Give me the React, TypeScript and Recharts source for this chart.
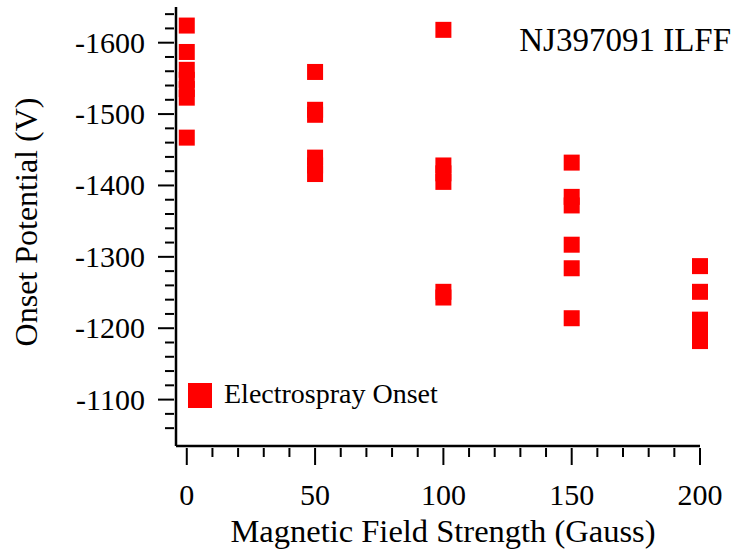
import { ScatterChart, Scatter, XAxis, YAxis, Customized } from 'recharts';

// Onset potential per run, grouped by applied field
const fieldGauss = [
  0, 0, 0, 0, 0, 0, 0,
  50, 50, 50, 50, 50, 50,
  100, 100, 100, 100, 100, 100,
  150, 150, 150, 150, 150, 150,
  200, 200, 200, 200, 200,
];
const onsetVolts = [
  -1624, -1587, -1562, -1548, -1535, -1523, -1467,
  -1559, -1506, -1499, -1439, -1428, -1416,
  -1618, -1428, -1417, -1405, -1251, -1243,
  -1432, -1384, -1372, -1317, -1284, -1214,
  -1287, -1251, -1212, -1197, -1182,
];

const xTicks = [0, 10, 20, 30, 40, 50, 60, 70, 80, 90, 100, 110, 120, 130, 140, 150, 160, 170, 180, 190, 200];
const xMajorTicks = [0, 50, 100, 150, 200];
const yTicks = [
  -1640, -1620, -1600, -1580, -1560, -1540, -1520, -1500, -1480, -1460, -1440, -1420, -1400,
  -1380, -1360, -1340, -1320, -1300, -1280, -1260, -1240, -1220, -1200, -1180, -1160, -1140,
  -1120, -1100, -1080, -1060,
];
const yMajorTicks = [-1600, -1500, -1400, -1300, -1200, -1100];

const seriesName = 'Electrospray Onset';
const sampleName = 'NJ397091 ILFF';
const xTitle = 'Magnetic Field Strength (Gauss)';
const yTitle = 'Onset Potential (V)';

const points = fieldGauss.map((g, i) => ({ g, v: onsetVolts[i] }));

const FONT = '"Liberation Serif", "Times New Roman", serif';
const RED = '#ff0000';

function XTick({ x, y, payload }: any) {
  const major = xMajorTicks.includes(payload.value);
  return (
    <g>
      <line x1={x} x2={x} y1={y} y2={y + (major ? 17 : 9)} stroke="#000" strokeWidth={2} />
      {major && (
        <text x={x} y={y + 57} textAnchor="middle" fontSize={30} fontFamily={FONT} fill="#000">
          {payload.value}
        </text>
      )}
    </g>
  );
}

function YTick({ x, y, payload }: any) {
  const major = yMajorTicks.includes(payload.value);
  return (
    <g>
      <line x1={x - (major ? 16 : 9)} x2={x} y1={y} y2={y} stroke="#000" strokeWidth={2} />
      {major && (
        <text x={x - 29} y={y + 10} textAnchor="end" fontSize={30} fontFamily={FONT} fill="#000">
          {payload.value}
        </text>
      )}
    </g>
  );
}

function Square({ cx, cy }: any) {
  return <rect x={cx - 8} y={cy - 8} width={16} height={16} fill={RED} />;
}

function Annotations() {
  return (
    <g fontFamily={FONT} fill="#000">
      <text x={731} y={51} textAnchor="end" fontSize={33}>{sampleName}</text>
      <text x={443} y={542} textAnchor="middle" fontSize={32.5}>{xTitle}</text>
      <text x={37} y={222} textAnchor="middle" fontSize={32} transform="rotate(-90, 37, 222)">
        {yTitle}
      </text>
      <rect x={188} y={383} width={24} height={25} fill={RED} />
      <text x={224} y={403} fontSize={28}>{seriesName}</text>
    </g>
  );
}

export default function App() {
  return (
    <div style={{ position: 'absolute', left: 0, top: 0, background: '#fff' }}>
      <ScatterChart width={734} height={552} margin={{ top: 7, right: 34, bottom: 0, left: 0 }}>
        <XAxis
          type="number"
          dataKey="g"
          domain={[-4.2, 200]}
          ticks={xTicks}
          interval={0}
          height={106}
          tickSize={0}
          tickLine={false}
          axisLine={{ stroke: '#000', strokeWidth: 2.5 }}
          tick={<XTick />}
        />
        <YAxis
          type="number"
          dataKey="v"
          domain={[-1650, -1035]}
          reversed
          ticks={yTicks}
          interval={0}
          width={176}
          tickSize={0}
          tickLine={false}
          axisLine={{ stroke: '#000', strokeWidth: 2.5 }}
          tick={<YTick />}
        />
        <Scatter data={points} fill={RED} shape={<Square />} isAnimationActive={false} />
        <Customized component={<Annotations />} />
      </ScatterChart>
    </div>
  );
}
